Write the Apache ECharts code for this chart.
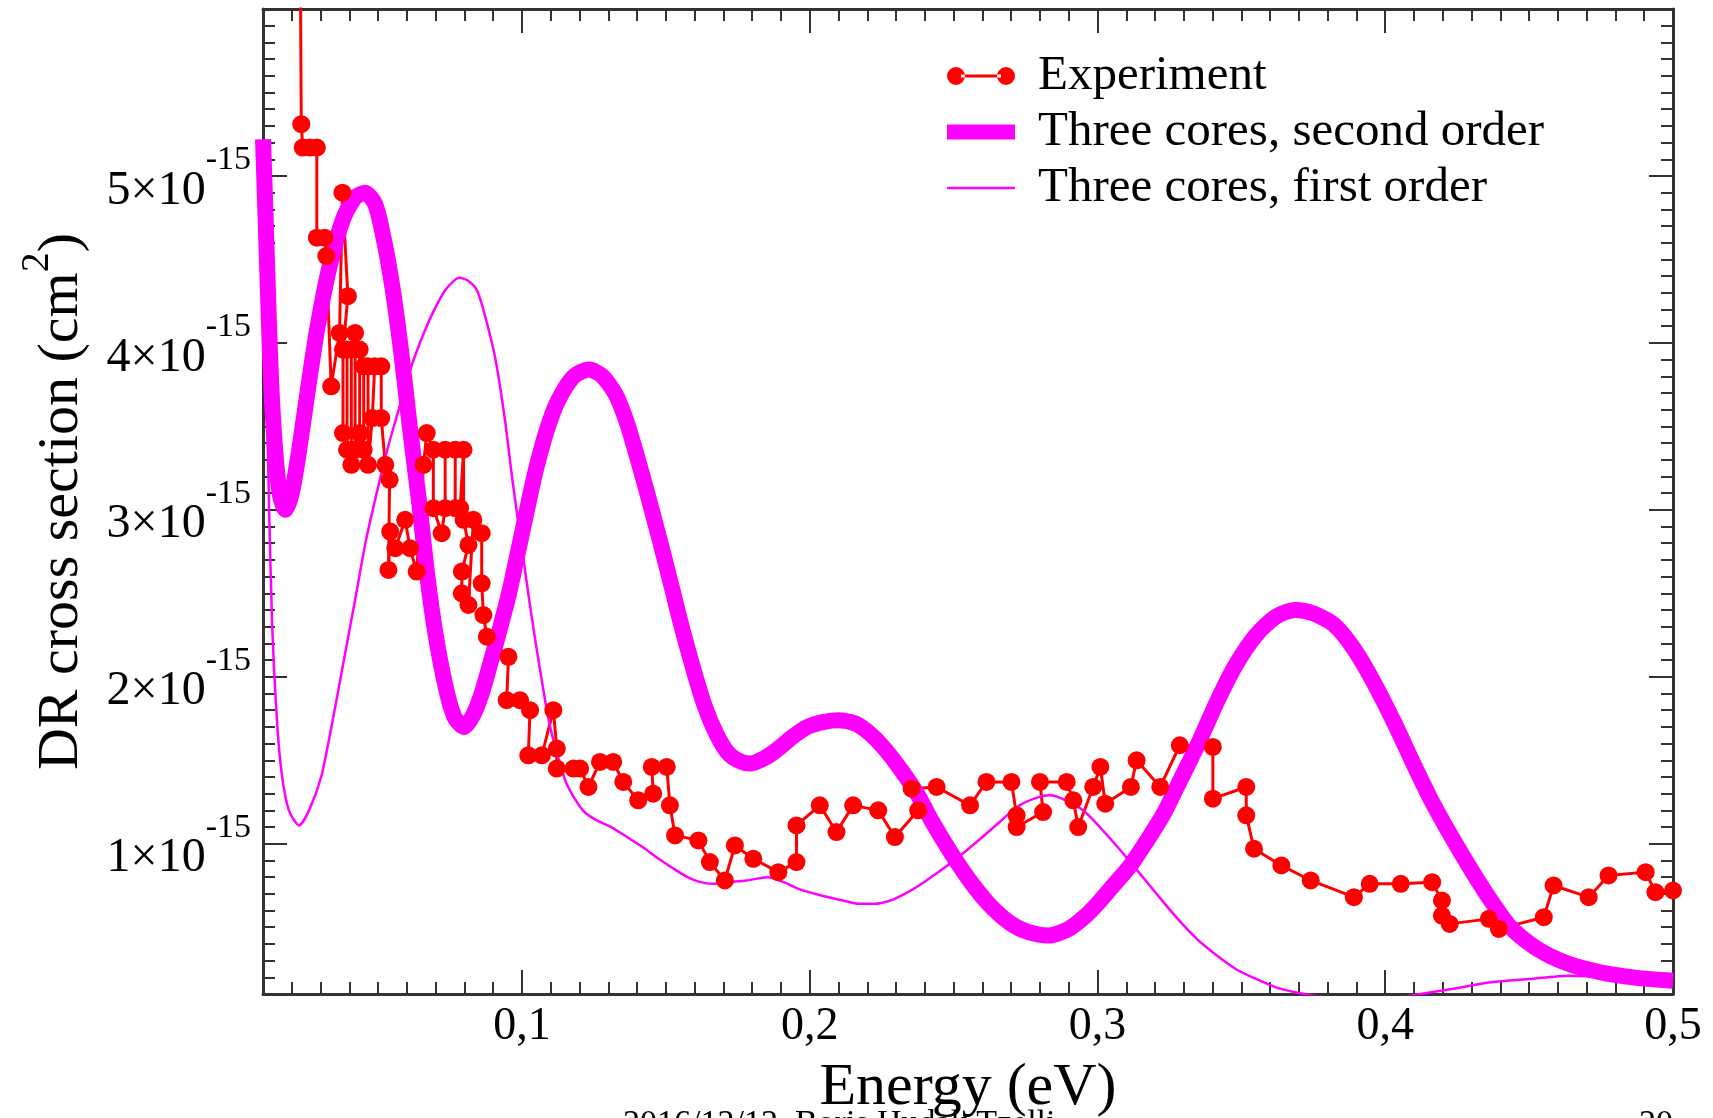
<!DOCTYPE html>
<html>
<head>
<meta charset="utf-8">
<title>DR cross section</title>
<script src="https://cdn.jsdelivr.net/npm/echarts@6/dist/echarts.min.js"></script>
<style>
  html, body { margin: 0; padding: 0; background: #fff; }
  #chart { width: 1713px; height: 1118px; }
</style>
</head>
<body>
<div id="chart"></div>
<script>
// cross sections are kept in units of 1e-15 cm^2
const xTicks = [0.1, 0.2, 0.3, 0.4, 0.5];
const yTicks = [1, 2, 3, 4, 5];

// Experiment (points joined in measured order)
const expEnergy = [0.0228, 0.0233, 0.0238, 0.0262, 0.0287, 0.0287, 0.0314, 0.0320, 0.0337, 0.0366,
  0.0376, 0.0395, 0.0378, 0.0378, 0.0392, 0.0392, 0.0407, 0.0407, 0.0420, 0.0420,
  0.0436, 0.0436, 0.0450, 0.0450, 0.0465, 0.0465, 0.0480, 0.0488, 0.0511, 0.0511,
  0.0525, 0.0540, 0.0536, 0.0542, 0.0560, 0.0594, 0.0611, 0.0634, 0.0658, 0.0669,
  0.0692, 0.0692, 0.0721, 0.0733, 0.0733, 0.0768, 0.0768, 0.0785, 0.0797, 0.0797,
  0.0814, 0.0791, 0.0791, 0.0814, 0.0831, 0.0860, 0.0860, 0.0866, 0.0878, 0.0953,
  0.0947, 0.0993, 0.1028, 0.1022, 0.1069, 0.1109, 0.1121, 0.1121, 0.1179, 0.1202,
  0.1231, 0.1271, 0.1317, 0.1352, 0.1404, 0.1456, 0.1451, 0.1503, 0.1514, 0.1532,
  0.1613, 0.1653, 0.1705, 0.1740, 0.1804, 0.1891, 0.1954, 0.1954, 0.2035, 0.2093,
  0.2151, 0.2238, 0.2296, 0.2377, 0.2354, 0.2441, 0.2557, 0.2614, 0.2701, 0.2719,
  0.2719, 0.2811, 0.2800, 0.2893, 0.2916, 0.2933, 0.2985, 0.3010, 0.3027, 0.3116,
  0.3136, 0.3218, 0.3286, 0.3401, 0.3401, 0.3517, 0.3517, 0.3544, 0.3639, 0.3741,
  0.3891, 0.3946, 0.4054, 0.4163, 0.4197, 0.4197, 0.4224, 0.4360, 0.4395, 0.4551,
  0.4585, 0.4707, 0.4776, 0.4905, 0.4939, 0.5000];
const expSigma = [6.80, 5.31, 5.17, 5.17, 5.17, 4.63, 4.63, 4.52, 3.74, 4.06,
  4.90, 4.28, 3.96, 3.46, 3.36, 3.96, 3.96, 3.27, 3.36, 4.06,
  3.96, 3.46, 3.36, 3.86, 3.86, 3.27, 3.55, 3.86, 3.86, 3.55,
  3.27, 3.18, 2.64, 2.87, 2.77, 2.94, 2.77, 2.63, 3.27, 3.46,
  3.36, 3.01, 2.86, 3.01, 3.36, 3.36, 3.01, 3.01, 3.36, 2.94,
  2.79, 2.63, 2.50, 2.43, 2.94, 2.86, 2.56, 2.37, 2.24, 2.12,
  1.86, 1.86, 1.80, 1.53, 1.53, 1.80, 1.57, 1.45, 1.45, 1.45,
  1.34, 1.49, 1.49, 1.37, 1.26, 1.30, 1.46, 1.46, 1.23, 1.05,
  1.02, 0.89, 0.78, 0.99, 0.91, 0.83, 0.89, 1.11, 1.23, 1.07,
  1.23, 1.20, 1.04, 1.20, 1.33, 1.34, 1.23, 1.37, 1.37, 1.17,
  1.10, 1.19, 1.37, 1.37, 1.26, 1.10, 1.34, 1.46, 1.24, 1.34,
  1.50, 1.34, 1.59, 1.58, 1.27, 1.34, 1.17, 0.97, 0.87, 0.78,
  0.68, 0.76, 0.76, 0.77, 0.66, 0.57, 0.52, 0.55, 0.49, 0.56,
  0.75, 0.68, 0.81, 0.83, 0.71, 0.72];

// Three cores, second order
const secondEnergy = [0.0100, 0.0110, 0.0120, 0.0130, 0.0145, 0.0160, 0.0178, 0.0200, 0.0225, 0.0256,
  0.0290, 0.0333, 0.0380, 0.0420, 0.0454, 0.0490, 0.0520, 0.0550, 0.0580, 0.0610,
  0.0643, 0.0670, 0.0700, 0.0736, 0.0765, 0.0798, 0.0830, 0.0860, 0.0890, 0.0922,
  0.0955, 0.0984, 0.1015, 0.1047, 0.1085, 0.1124, 0.1180, 0.1233, 0.1280, 0.1326,
  0.1365, 0.1403, 0.1440, 0.1480, 0.1520, 0.1558, 0.1600, 0.1636, 0.1675, 0.1713,
  0.1750, 0.1791, 0.1840, 0.1884, 0.1940, 0.1992, 0.2050, 0.2100, 0.2160, 0.2209,
  0.2260, 0.2318, 0.2373, 0.2426, 0.2493, 0.2560, 0.2627, 0.2700, 0.2760, 0.2830,
  0.2900, 0.2960, 0.3010, 0.3060, 0.3110, 0.3180, 0.3230, 0.3279, 0.3350, 0.3415,
  0.3480, 0.3551, 0.3620, 0.3687, 0.3750, 0.3823, 0.3890, 0.3959, 0.4030, 0.4095,
  0.4160, 0.4231, 0.4300, 0.4367, 0.4430, 0.4503, 0.4570, 0.4639, 0.4710, 0.4776,
  0.4880, 0.5000];
const secondSigma = [5.22, 4.70, 4.15, 3.70, 3.30, 3.08, 3.00, 3.10, 3.35, 3.72,
  4.10, 4.47, 4.75, 4.87, 4.90, 4.83, 4.62, 4.33, 3.95, 3.50,
  3.04, 2.62, 2.25, 1.93, 1.76, 1.70, 1.77, 1.90, 2.08, 2.28,
  2.50, 2.73, 2.98, 3.23, 3.47, 3.65, 3.80, 3.84, 3.80, 3.69,
  3.52, 3.30, 3.07, 2.81, 2.54, 2.28, 2.02, 1.82, 1.66, 1.55,
  1.50, 1.48, 1.51, 1.56, 1.64, 1.70, 1.73, 1.74, 1.72, 1.66,
  1.57, 1.44, 1.30, 1.13, 0.94, 0.77, 0.63, 0.52, 0.47, 0.45,
  0.49, 0.57, 0.66, 0.76, 0.86, 1.04, 1.18, 1.35, 1.60, 1.85,
  2.07, 2.25, 2.36, 2.40, 2.38, 2.31, 2.17, 1.97, 1.73, 1.49,
  1.26, 1.04, 0.84, 0.66, 0.51, 0.40, 0.33, 0.28, 0.245, 0.22,
  0.195, 0.18];

// Three cores, first order
const firstEnergy = [0.0100, 0.0110, 0.0120, 0.0132, 0.0148, 0.0165, 0.0190, 0.0225, 0.0260, 0.0302,
  0.0340, 0.0380, 0.0420, 0.0457, 0.0495, 0.0535, 0.0575, 0.0612, 0.0650, 0.0690,
  0.0735, 0.0783, 0.0815, 0.0845, 0.0875, 0.0907, 0.0940, 0.0969, 0.1000, 0.1031,
  0.1062, 0.1093, 0.1125, 0.1155, 0.1187, 0.1217, 0.1260, 0.1310, 0.1365, 0.1419,
  0.1475, 0.1527, 0.1575, 0.1620, 0.1665, 0.1713, 0.1780, 0.1853, 0.1910, 0.1961,
  0.2040, 0.2116, 0.2170, 0.2225, 0.2280, 0.2330, 0.2380, 0.2430, 0.2487, 0.2545,
  0.2600, 0.2660, 0.2720, 0.2780, 0.2835, 0.2890, 0.2950, 0.3008, 0.3075, 0.3143,
  0.3210, 0.3279, 0.3345, 0.3415, 0.3480, 0.3551, 0.3620, 0.3687, 0.3750, 0.3850,
  0.3950, 0.4050, 0.4122, 0.4231, 0.4367, 0.4500, 0.4640, 0.4800, 0.5000];
const firstSigma = [5.00, 4.00, 3.10, 2.30, 1.75, 1.42, 1.20, 1.11, 1.20, 1.40,
  1.72, 2.09, 2.46, 2.81, 3.10, 3.38, 3.62, 3.84, 4.02, 4.18,
  4.32, 4.39, 4.37, 4.31, 4.14, 3.91, 3.55, 3.15, 2.77, 2.39,
  2.05, 1.74, 1.52, 1.36, 1.26, 1.19, 1.14, 1.10, 1.04, 0.98,
  0.91, 0.85, 0.80, 0.77, 0.76, 0.77, 0.78, 0.80, 0.77, 0.73,
  0.69, 0.66, 0.64, 0.64, 0.66, 0.70, 0.75, 0.81, 0.88, 0.96,
  1.04, 1.13, 1.22, 1.27, 1.29, 1.26, 1.20, 1.10, 0.97, 0.83,
  0.69, 0.55, 0.43, 0.33, 0.25, 0.19, 0.14, 0.11, 0.09, 0.07,
  0.06, 0.08, 0.10, 0.13, 0.17, 0.19, 0.21, 0.20, 0.19];

const serif = "'Liberation Serif', 'DejaVu Serif', serif";
const frame = '#333';

const zip = (xs, ys) => xs.map((x, i) => [x, ys[i]]);

// minor ticks every 0.01 eV and 0.1e-15
const xMinor = [];
for (let i = 2; i <= 49; i++) if (i % 10) xMinor.push(i / 100);
const yMinor = [];
for (let i = 2; i <= 59; i++) if (i % 10) yMinor.push(i / 10);

function tickAxis(position, min, max, ticks, len, showLine) {
  return {
    type: 'value', position: position, min: min, max: max,
    axisLine: { show: showLine, onZero: false, lineStyle: { color: frame, width: 3 } },
    axisTick: { show: true, inside: true, length: len, customValues: ticks,
      lineStyle: { color: frame, width: 2 } },
    axisLabel: { show: false },
    splitLine: { show: false }
  };
}

const chart = echarts.init(document.getElementById('chart'));

const xMain = tickAxis('bottom', 0.01, 0.5, xTicks, 24, true);
xMain.axisLabel = {
  show: true, customValues: xTicks, margin: 10,
  fontSize: 46, fontFamily: serif, color: '#000',
  formatter: v => v.toFixed(1).replace('.', ',')
};
xMain.name = 'Energy (eV)';
xMain.nameLocation = 'middle';
xMain.nameGap = 64;
xMain.nameTextStyle = { fontSize: 60, fontFamily: serif, color: '#000' };

const yMain = tickAxis('left', 0.1, 6.0, yTicks, 24, true);
yMain.axisLabel = {
  show: true, customValues: yTicks, margin: 12,
  formatter: v => '{m|' + v + '×10}{s|-15}',
  rich: {
    m: { fontSize: 48, fontFamily: serif, color: '#000', padding: [30, 0, 0, 0], verticalAlign: 'bottom' },
    s: { fontSize: 34, fontFamily: serif, color: '#000', padding: [6, 0, 0, 0], verticalAlign: 'top' }
  }
};
yMain.name = '{t|DR cross section (cm}{s|2}{t|)}';
yMain.nameLocation = 'middle';
yMain.nameRotate = 90;
yMain.nameGap = 172;
yMain.nameTextStyle = {
  rich: {
    t: { fontSize: 58, fontFamily: serif, color: '#000', padding: [16, 0, 0, 0], verticalAlign: 'bottom' },
    s: { fontSize: 40, fontFamily: serif, color: '#000', verticalAlign: 'top' }
  }
};

chart.setOption({
  animation: false,
  backgroundColor: '#fff',
  grid: { left: 263, right: 40, top: 9, bottom: 124, containLabel: false, outerBoundsMode: 'none' },
  xAxis: [
    xMain,
    tickAxis('bottom', 0.01, 0.5, xMinor, 12, false),
    tickAxis('top', 0.01, 0.5, xTicks, 24, true),
    tickAxis('top', 0.01, 0.5, xMinor, 12, false)
  ],
  yAxis: [
    yMain,
    tickAxis('left', 0.1, 6.0, yMinor, 12, false),
    tickAxis('right', 0.1, 6.0, yTicks, 24, true),
    tickAxis('right', 0.1, 6.0, yMinor, 12, false)
  ],
  legend: {
    orient: 'vertical', left: 942, top: 45,
    itemWidth: 68, itemHeight: 18, itemGap: 4,
    symbolKeepAspect: true,
    itemStyle: { borderWidth: 0 },
    textStyle: { fontSize: 49, fontFamily: serif, color: '#000', lineHeight: 52, padding: [0, 0, 0, 18] },
    data: [
      { name: 'Experiment',
        icon: 'path://M0,9a9,9 0 1,0 18,0a9,9 0 1,0 -18,0z M14,7.5h40v3h-40z M50,9a9,9 0 1,0 18,0a9,9 0 1,0 -18,0z' },
      { name: 'Three cores, second order', icon: 'path://M0,0h68v15h-68z' },
      { name: 'Three cores, first order', icon: 'path://M0,0h68v2.5h-68z' }
    ]
  },
  series: [
    {
      name: 'Experiment', type: 'line',
      data: zip(expEnergy, expSigma),
      symbol: 'circle', symbolSize: 18,
      lineStyle: { color: '#ff0000', width: 3 },
      itemStyle: { color: '#ff0000', borderWidth: 0 },
      clip: true
    },
    {
      name: 'Three cores, second order', type: 'line',
      data: zip(secondEnergy, secondSigma),
      showSymbol: false, smooth: 0.25,
      lineStyle: { color: '#ff00ff', width: 16 },
      itemStyle: { color: '#ff00ff' },
      clip: true
    },
    {
      name: 'Three cores, first order', type: 'line',
      data: zip(firstEnergy, firstSigma),
      showSymbol: false, smooth: 0.25,
      lineStyle: { color: '#ff00ff', width: 2.5 },
      itemStyle: { color: '#ff00ff' },
      clip: true
    }
  ],
  graphic: [
    { type: 'text', left: 623, top: 1107,
      style: { text: '2016/12/12  Boris Hudak Tzelli', fontSize: 34, fontFamily: serif, fill: '#000' } },
    { type: 'text', left: 1639, top: 1107,
      style: { text: '20', fontSize: 34, fontFamily: serif, fill: '#000' } }
  ]
});
</script>
</body>
</html>
